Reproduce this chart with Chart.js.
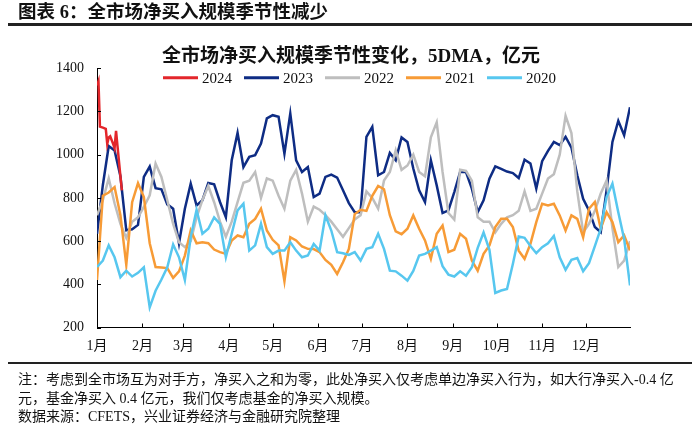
<!DOCTYPE html>
<html>
<head>
<meta charset="utf-8">
<script src="https://cdn.jsdelivr.net/npm/chart.js@4/dist/chart.umd.min.js"></script>
<style>
  html, body { margin: 0; padding: 0; background: #fff; }
  #wrap { position: relative; width: 700px; height: 425px; overflow: hidden;
          font-family: "Liberation Serif", "Noto Sans CJK SC", serif; color: #111; }
  #chart { position: absolute; left: 0; top: 0; }
  .head { position: absolute; left: 18px; top: 1px; font-size: 18.5px; font-weight: bold;
          white-space: pre; line-height: 22px; }
  .rule { position: absolute; left: 8px; right: 8px; background: #222; }
  .note { position: absolute; left: 18px; font-size: 14px; white-space: pre; line-height: 18px; }
</style>
</head>
<body>
<div id="wrap">
  <canvas id="chart" width="700" height="425"></canvas>
  <div class="head">图表 6：全市场净买入规模季节性减少</div>
  <div class="rule" style="top:23px;height:2.5px"></div>
  <div class="rule" style="top:362px;height:1.5px"></div>
  <div class="note" style="top:371px">注：考虑到全市场互为对手方，净买入之和为零，此处净买入仅考虑单边净买入行为，如大行净买入-0.4 亿</div>
  <div class="note" style="top:390px">元，基金净买入 0.4 亿元，我们仅考虑基金的净买入规模。</div>
  <div class="note" style="top:408px">数据来源：CFETS，兴业证券经济与金融研究院整理</div>
</div>
<script>
// x positions are day of year
const months = ['1月', '2月', '3月', '4月', '5月', '6月', '7月', '8月', '9月', '10月', '11月', '12月'];
const monthStarts = [1, 32, 60, 91, 121, 152, 182, 213, 244, 274, 305, 335];

const days = [1, 5, 9, 13, 17, 21, 25, 29, 33, 37, 41, 45, 49, 53, 57,
  61, 65, 69, 73, 77, 81, 85, 89, 93, 97, 101, 105, 109, 113, 117,
  121, 125, 129, 133, 137, 141, 145, 149, 153, 157, 161, 165, 169, 173, 177,
  181, 185, 189, 193, 197, 201, 205, 209, 213, 217, 221, 225, 229, 233, 237, 241,
  245, 249, 253, 257, 261, 265, 269, 273, 277, 281, 285, 289, 293, 297, 301,
  305, 309, 313, 317, 321, 325, 329, 333, 337, 341, 345, 349, 353, 357, 361, 365];

const days2024 = [1, 2, 3, 5, 7, 8, 9, 10, 12, 13, 14, 15, 17, 18];
const y2024 = [1320, 1340, 1130, 1125, 1120, 1050, 1080, 1085, 1050, 1030, 1110, 1040, 900, 835];

const y2023 = [634, 860, 1040, 1020, 900, 650, 655, 675, 897, 945, 845, 840, 770, 750, 590,
  750, 866, 765, 789, 869, 863, 781, 711, 974, 1101, 943, 990, 998, 1052, 1168,
  1183, 1176, 1005, 1191, 974, 920, 943, 804, 820, 897, 908, 894, 835, 776, 734,
  734, 1083, 1129, 905, 920, 1008, 974, 1080, 1059, 936, 835, 781, 974, 858, 730, 742,
  827, 920, 920, 843, 734, 789, 889, 946, 934, 922, 915, 892, 977, 959, 843,
  970, 1018, 1059, 1044, 1083, 1033, 905, 796, 742, 665, 641, 835, 1059, 1157, 1090, 1220];

const y2022 = [720, 790, 890, 775, 680, 615, 690, 710, 758, 812, 959, 897, 789, 680, 595,
  572, 600, 710, 790, 855, 780, 690, 620, 690, 780, 870, 880, 920, 800, 890,
  880, 810, 750, 880, 930, 820, 690, 760, 745, 720, 690, 655, 620, 660, 700,
  720, 830, 800, 750, 880, 920, 1020, 930, 950, 1000, 920, 900, 1080, 1150, 920, 730,
  700, 930, 925, 880, 710, 690, 690, 640, 680, 710, 720, 740, 830, 740, 750,
  820, 890, 910, 1000, 1180, 1100, 830, 640, 680, 740, 820, 880, 660, 480, 510, 600];

const y2021 = [420, 810, 825, 850, 720, 490, 780, 868, 804, 590, 480, 478, 475, 430, 460,
  533, 650, 590, 595, 590, 561, 549, 541, 603, 626, 618, 680, 703, 750, 649,
  606, 580, 414, 618, 603, 575, 564, 563, 549, 513, 490, 448, 502, 564, 725,
  745, 740, 810, 855, 840, 720, 645, 632, 657, 719, 657, 603, 518, 634, 672, 549,
  560, 634, 611, 510, 463, 541, 580, 665, 703, 703, 665, 556, 518, 587, 688,
  773, 765, 773, 719, 649, 719, 703, 618, 750, 781, 657, 734, 688, 595, 626, 557];

const y2020 = [480, 510, 580, 525, 433, 463, 436, 453, 479, 293, 370, 422, 479, 584, 525,
  420, 618, 745, 634, 657, 710, 680, 525, 634, 742, 773, 556, 580, 680, 572,
  541, 556, 556, 595, 556, 525, 533, 587, 556, 720, 649, 549, 544, 536, 549,
  510, 564, 572, 634, 564, 463, 460, 440, 417, 462, 533, 541, 556, 572, 484, 445,
  436, 460, 440, 479, 569, 640, 560, 360, 371, 378, 494, 621, 615, 577, 544,
  572, 590, 624, 525, 467, 513, 522, 460, 498, 577, 657, 804, 866, 734, 610, 395];

const yTicks = [200, 400, 600, 800, 1000, 1200, 1400];

const chartTitle = '全市场净买入规模季节性变化，5DMA，亿元';

const pts = (xs, ys) => xs.map((d, i) => ({ x: d, y: ys[i] }));

const serif = "'Liberation Serif', 'Noto Sans CJK SC', serif";

// title and legend both sit over the top of the plot
const insideLegend = {
  id: 'insideLegend',
  afterDraw(chart) {
    const { ctx, chartArea } = chart;
    const ds = chart.data.datasets;
    ctx.save();
    ctx.fillStyle = '#111';
    ctx.textBaseline = 'middle';
    ctx.textAlign = 'center';
    ctx.font = "bold 19px 'Liberation Serif', 'Noto Sans CJK SC'";
    ctx.fillText(chartTitle, chart.width / 2 + 1, chartArea.top - 11);

    ctx.font = "15px 'Liberation Serif'";
    ctx.textAlign = 'left';
    const lineW = 35, gap = 4, itemGap = 12;
    const widths = ds.map(d => lineW + gap + ctx.measureText(d.label).width);
    const total = widths.reduce((a, b) => a + b, 0) + itemGap * (ds.length - 1);
    let x = (chartArea.left + chartArea.right) / 2 - 4 - total / 2;
    const y = chartArea.top + 9.5;
    ds.forEach((d, i) => {
      ctx.strokeStyle = d.borderColor;
      ctx.lineWidth = 3;
      ctx.beginPath();
      ctx.moveTo(x, y);
      ctx.lineTo(x + lineW, y);
      ctx.stroke();
      ctx.fillText(d.label, x + lineW + gap, y + 1);
      x += widths[i] + itemGap;
    });
    ctx.restore();
  }
};

// small tick marks pointing into the plot
const innerTicks = {
  id: 'innerTicks',
  afterDraw(chart) {
    const { ctx, scales: { x, y } } = chart;
    ctx.save();
    ctx.strokeStyle = '#000';
    ctx.lineWidth = 1;
    ctx.beginPath();
    y.ticks.forEach(t => {
      const py = Math.round(y.getPixelForValue(t.value)) + 0.5;
      ctx.moveTo(x.left, py);
      ctx.lineTo(x.left + 4, py);
    });
    x.ticks.forEach(t => {
      const px = Math.round(x.getPixelForValue(t.value)) + 0.5;
      ctx.moveTo(px, y.bottom);
      ctx.lineTo(px, y.bottom - 4);
    });
    ctx.stroke();
    ctx.restore();
  }
};

const line = (label, data, color, order) => ({
  label, data, order,
  borderColor: color, backgroundColor: color,
  borderWidth: 2.5, pointRadius: 0, tension: 0, fill: false
});

new Chart(document.getElementById('chart'), {
  type: 'line',
  data: {
    datasets: [
      line('2024', pts(days2024, y2024), '#E3262B', 0),
      line('2023', pts(days, y2023), '#0E2C84', 4),
      line('2022', pts(days, y2022), '#BEBEBE', 3),
      line('2021', pts(days, y2021), '#F79B36', 2),
      line('2020', pts(days, y2020), '#57C7EF', 1)
    ]
  },
  options: {
    responsive: false,
    animation: false,
    devicePixelRatio: 1,
    layout: { padding: { left: 40, right: 70, top: 68.3, bottom: 67.5 } },
    plugins: {
      legend: { display: false },
      tooltip: { enabled: false },
      title: { display: false }
    },
    scales: {
      x: {
        type: 'linear', min: 1, max: 365,
        afterBuildTicks: s => { s.ticks = monthStarts.map(v => ({ value: v })); },
        afterFit: s => { s.height = 30; },
        ticks: {
          autoSkip: false, maxRotation: 0, padding: 10, color: '#111',
          font: { family: serif, size: 14 },
          callback: (v, i) => months[i]
        },
        grid: { display: false, drawTicks: false },
        border: { display: true, color: '#000', width: 1 }
      },
      y: {
        min: 200, max: 1400,
        afterBuildTicks: s => { s.ticks = yTicks.map(v => ({ value: v })); },
        afterFit: s => { s.width = 57; },
        ticks: {
          padding: 13, color: '#111', font: { family: serif, size: 14 },
          callback: v => String(v)
        },
        grid: { display: false, drawTicks: false },
        border: { display: true, color: '#000', width: 1 }
      }
    }
  },
  plugins: [insideLegend, innerTicks]
});
</script>
</body>
</html>
